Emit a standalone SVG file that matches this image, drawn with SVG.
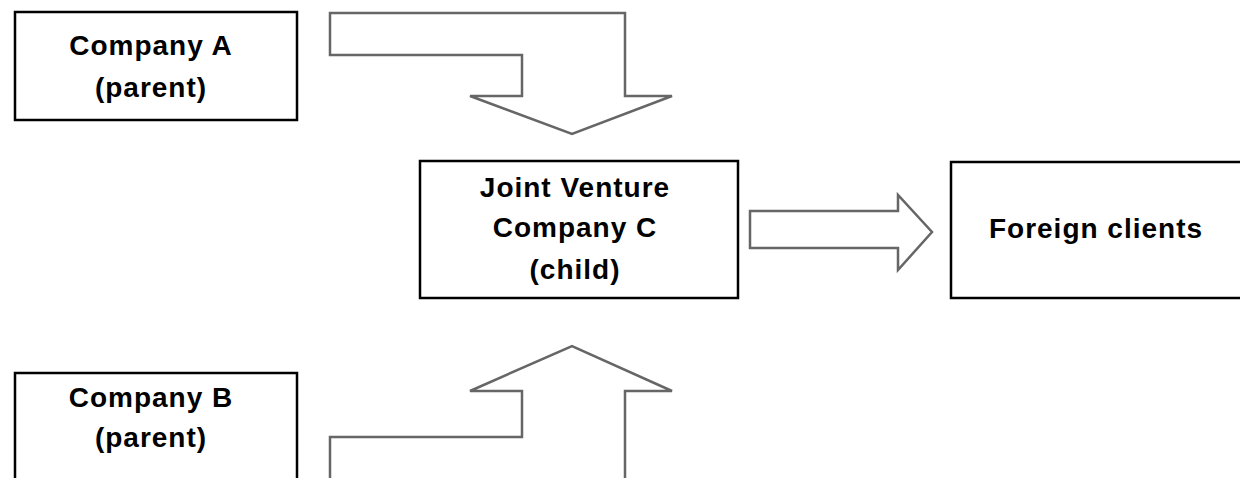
<svg xmlns="http://www.w3.org/2000/svg" width="1240" height="478" viewBox="0 0 1240 478">
<style>
.box{fill:#fff;stroke:#000;stroke-width:2.5}
.arr{fill:#fff;stroke:#666;stroke-width:2.5;stroke-linejoin:miter}
.t{font-family:"Liberation Sans",Arial,sans-serif;font-weight:bold;font-size:28px;fill:#000;text-anchor:middle;letter-spacing:1px}
</style>
<rect width="1240" height="478" fill="#fff"/>
<g id="connectors">
<polygon class="arr" points="330,13 625,13 625,96 672,96 572,134 470,96 522,96 522,55 330,55"/>
<polygon class="arr" points="750,211 898,211 898,195 932,232 898,270 898,248 750,248"/>
<polyline class="arr" points="330,480 330,437 522,437 522,391 470,391 572,346 672,391 625,391 625,480"/>
</g>
<g id="companyA">
<rect class="box" x="15" y="12" width="282" height="108"/>
<text class="t" x="151" y="55">Company A</text>
<text class="t" x="151" y="97">(parent)</text>
</g>
<g id="jointVenture">
<rect class="box" x="420" y="161" width="318" height="137"/>
<text class="t" x="575" y="197">Joint Venture</text>
<text class="t" x="575" y="237">Company C</text>
<text class="t" x="575" y="279">(child)</text>
</g>
<g id="foreignClients">
<rect class="box" x="951" y="162" width="300" height="136"/>
<text class="t" x="1096" y="238">Foreign clients</text>
</g>
<g id="companyB">
<rect class="box" x="15" y="373" width="282" height="120"/>
<text class="t" x="151" y="407">Company B</text>
<text class="t" x="151" y="447">(parent)</text>
</g>
</svg>
